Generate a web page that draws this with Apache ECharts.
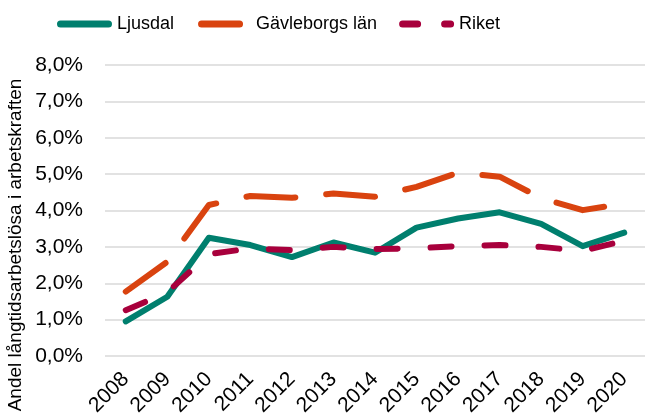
<!DOCTYPE html>
<html><head><meta charset="utf-8">
<script src="https://cdn.jsdelivr.net/npm/echarts@6/dist/echarts.min.js"></script>
<style>html,body{margin:0;padding:0;background:#fff}#c{width:650px;height:419px}</style>
</head><body><div id="c"></div>
<script>
const years = ['2008','2009','2010','2011','2012','2013','2014','2015','2016','2017','2018','2019','2020'];
const ljusdal = [0.95,1.63,3.25,3.05,2.72,3.12,2.84,3.53,3.78,3.95,3.63,3.02,3.39];
const gavleborg = [1.77,2.59,4.15,4.40,4.35,4.47,4.38,4.65,5.04,4.93,4.34,4.01,4.19];
const riket = [1.26,1.75,2.80,2.96,2.91,3.00,2.94,2.96,3.02,3.05,3.00,2.89,3.17];
const yTicks = [0,1,2,3,4,5,6,7,8];
const yTitle = 'Andel långtidsarbetslösa i arbetskraften';

const font = '"Liberation Sans", Arial, sans-serif';
const C1 = '#007F6E', C2 = '#D9430F', C3 = '#A8003C';
// legend icon paths in a 55 x 7 box (tiny dots at the corners fix the box)
const seg = (a,b) => `M${a+3.5},0 L${b-3.5},0 A3.5,3.5 0 0 1 ${b-3.5},7 L${a+3.5},7 A3.5,3.5 0 0 1 ${a+3.5},0 Z `;
const box = 'M0,3.5 L0.01,3.5 L0.01,3.51 Z M54.99,3.5 L55,3.5 L55,3.51 Z ';
const iconL = 'path://' + box + seg(0,55);
const iconG = 'path://' + box + seg(2,47);
const iconR = 'path://' + box + seg(0,22) + seg(42,55);

const chart = echarts.init(document.getElementById('c'), null, {renderer:'canvas'});
chart.setOption({
  animation:false,
  textStyle:{fontFamily:font},
  legend:{
    top:10, left:52,
    itemWidth:55, itemHeight:7, itemGap:22,
    textStyle:{fontSize:18, color:'#000', fontFamily:font},
    data:[
      {name:'Ljusdal', icon:iconL, itemStyle:{color:C1}},
      {name:'Gävleborgs län', icon:iconG, itemStyle:{color:C2}},
      {name:'Riket', icon:iconR, itemStyle:{color:C3}}
    ]
  },
  grid:{left:105, right:5, top:65, bottom:63, containLabel:false},
  xAxis:{
    type:'category', data:years, boundaryGap:true,
    axisLine:{show:false}, axisTick:{show:false},
    axisLabel:{rotate:45, fontSize:21, color:'#000', margin:20, fontFamily:font, interval:0}
  },
  yAxis:{
    type:'value', min:yTicks[0], max:yTicks[yTicks.length-1], interval:1,
    axisLine:{show:false}, axisTick:{show:false},
    splitLine:{lineStyle:{color:'#d9d9d9', width:1.5}},
    axisLabel:{fontSize:21, color:'#000', margin:22, fontFamily:font,
      formatter:v=>v.toFixed(1).replace('.',',')+'%'}
  },
  graphic:[{
    type:'text', x:16, y:245, rotation:Math.PI/2,
    style:{text:yTitle, fontSize:19, fill:'#000', fontFamily:font, align:'center', verticalAlign:'middle'}
  }],
  series:[
    {name:'Ljusdal', type:'line', data:ljusdal, symbol:'none',
     lineStyle:{color:C1, width:6, cap:'round', join:'round'}, itemStyle:{color:C1}},
    {name:'Gävleborgs län', type:'line', data:gavleborg, symbol:'none',
     lineStyle:{color:C2, width:6, type:[49,31], cap:'round', join:'round'}, itemStyle:{color:C2}},
    {name:'Riket', type:'line', data:riket, symbol:'none',
     lineStyle:{color:C3, width:6, type:[21,33], cap:'round', join:'round'}, itemStyle:{color:C3}}
  ]
});
</script></body></html>
